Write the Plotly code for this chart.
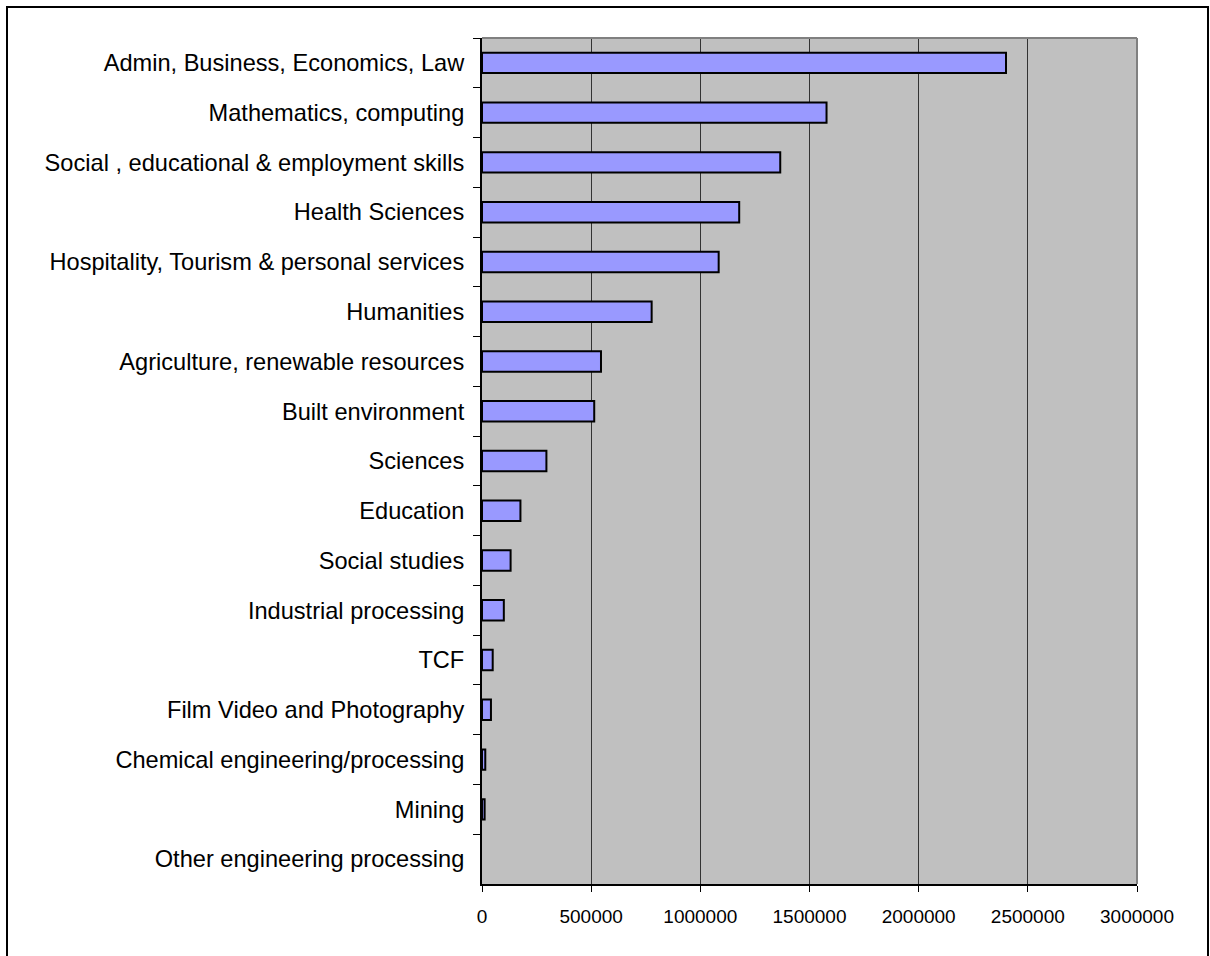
import plotly.graph_objects as go

# Enrolments by field of study
categories = [
    "Admin, Business, Economics, Law",
    "Mathematics, computing",
    "Social , educational & employment skills",
    "Health Sciences",
    "Hospitality, Tourism & personal services",
    "Humanities",
    "Agriculture, renewable resources",
    "Built environment",
    "Sciences",
    "Education",
    "Social studies",
    "Industrial processing",
    "TCF",
    "Film Video and Photography",
    "Chemical engineering/processing",
    "Mining",
    "Other engineering processing",
]
values = [
    2400000, 1578000, 1366000, 1178000, 1084000, 777000, 545000, 514000,
    295000, 176000, 131000, 100000, 49000, 41000, 15000, 12000, 0,
]
x_ticks = [0, 500000, 1000000, 1500000, 2000000, 2500000, 3000000]

W, H = 1210, 956
ML, MR, MT, MB = 482, 73, 38, 72
pw, ph = W - ML - MR, H - MT - MB

# empty categories get no outline so nothing is drawn for them
outline_widths = [2 if v > 0 else 0 for v in values]

fig = go.Figure(
    go.Bar(
        x=values,
        y=categories,
        orientation="h",
        marker=dict(color="#9999FF", line=dict(color="#000000", width=outline_widths)),
        hoverinfo="x+y",
    )
)

fig.update_layout(
    width=W,
    height=H,
    margin=dict(l=ML, r=MR, t=MT, b=MB, pad=0),
    paper_bgcolor="#FFFFFF",
    plot_bgcolor="#C0C0C0",
    bargap=0.59,
    showlegend=False,
    font=dict(family="Liberation Sans, Arial, sans-serif", color="#000000"),
)

fig.update_xaxes(
    range=[0, 3000000],
    tickvals=x_ticks,
    ticktext=[str(v) for v in x_ticks],
    showgrid=True,
    gridcolor="#333333",
    gridwidth=1,
    zeroline=False,
    showline=True,
    linecolor="#000000",
    linewidth=2,
    ticks="outside",
    ticklen=6,
    tickwidth=1,
    tickcolor="#000000",
    tickfont=dict(size=19),
    ticklabelstandoff=8,
)

fig.update_yaxes(
    type="category",
    autorange="reversed",
    showgrid=False,
    zeroline=False,
    showline=True,
    linecolor="#000000",
    linewidth=2,
    ticks="outside",
    tickson="boundaries",
    ticklen=7,
    tickwidth=1,
    tickcolor="#000000",
    tickfont=dict(size=23.6),
    ticklabelstandoff=11,
)

# grey border on the top and right of the plot area
fig.add_shape(type="line", xref="paper", yref="paper", x0=0, x1=1, y0=1, y1=1,
              line=dict(color="#808080", width=2), layer="above")
fig.add_shape(type="line", xref="paper", yref="paper", x0=1, x1=1, y0=0, y1=1,
              line=dict(color="#808080", width=2), layer="above")

# outer frame around the whole chart
fx0, fx1 = 7, 1208
fy0, fy1 = 7, 962
fig.add_shape(
    type="rect", xref="paper", yref="paper",
    x0=(fx0 - ML) / pw, x1=(fx1 - ML) / pw,
    y0=1 - (fy1 - MT) / ph, y1=1 - (fy0 - MT) / ph,
    line=dict(color="#000000", width=2), fillcolor="rgba(0,0,0,0)", layer="above",
)

fig.write_html("out.html")
